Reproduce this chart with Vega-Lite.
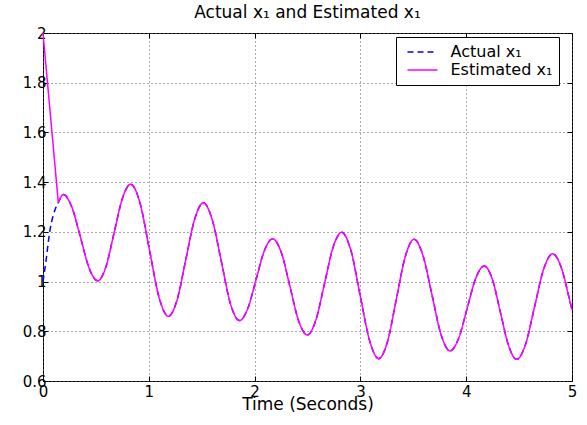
{
  "$schema": "https://vega.github.io/schema/vega-lite/v6.json",
  "width": 529,
  "height": 348,
  "autosize": {"type": "none"},
  "padding": {"left": 43, "top": 33, "right": 15, "bottom": 44},
  "background": "white",
  "config": {
    "view": {"stroke": "black", "strokeWidth": 1},
    "font": "DejaVu Sans",
    "axis": {
      "labelFont": "DejaVu Sans",
      "labelFontSize": 15,
      "labelColor": "black",
      "tickColor": "black",
      "tickSize": -5,
      "domain": false,
      "gridColor": "#555555",
      "gridDash": [1, 3],
      "gridOpacity": 1,
      "labelOverlap": false,
      "labelFlush": false,
      "titleFont": "DejaVu Sans",
      "titleFontSize": 17,
      "titleFontWeight": "normal",
      "titleColor": "black"
    }
  },
  "title": {
    "text": "Actual x₁ and Estimated x₁",
    "font": "DejaVu Sans",
    "fontSize": 17,
    "fontWeight": "normal",
    "color": "black",
    "anchor": "middle",
    "baseline": "alphabetic",
    "offset": -9
  },
  "datasets": {
    "curve": [
      {"s": "A", "p": "m", "t": 0, "v": 1.0},
      {"s": "A", "p": "m", "t": 0.025, "v": 1.073},
      {"s": "A", "p": "m", "t": 0.066, "v": 1.207},
      {"s": "A", "p": "m", "t": 0.113, "v": 1.288},
      {"s": "E", "p": "e0", "t": 0, "v": 2.0},
      {"s": "E", "p": "e0", "t": 0.145, "v": 1.317},
      {"s": "B", "p": "m", "t": 0.145, "v": 1.318},
      {"s": "B", "p": "m", "t": 0.192, "v": 1.35},
      {"s": "B", "p": "m", "t": 0.273, "v": 1.299},
      {"s": "B", "p": "m", "t": 0.355, "v": 1.177},
      {"s": "B", "p": "m", "t": 0.436, "v": 1.054},
      {"s": "B", "p": "m", "t": 0.517, "v": 1.003},
      {"s": "B", "p": "m", "t": 0.595, "v": 1.06},
      {"s": "B", "p": "m", "t": 0.673, "v": 1.198},
      {"s": "B", "p": "m", "t": 0.751, "v": 1.335},
      {"s": "B", "p": "m", "t": 0.829, "v": 1.392},
      {"s": "B", "p": "m", "t": 0.918, "v": 1.314},
      {"s": "B", "p": "m", "t": 1.007, "v": 1.126},
      {"s": "B", "p": "m", "t": 1.096, "v": 0.938},
      {"s": "B", "p": "m", "t": 1.185, "v": 0.86},
      {"s": "B", "p": "m", "t": 1.268, "v": 0.927},
      {"s": "B", "p": "m", "t": 1.35, "v": 1.089},
      {"s": "B", "p": "m", "t": 1.433, "v": 1.25},
      {"s": "B", "p": "m", "t": 1.515, "v": 1.317},
      {"s": "B", "p": "m", "t": 1.6, "v": 1.248},
      {"s": "B", "p": "m", "t": 1.686, "v": 1.08},
      {"s": "B", "p": "m", "t": 1.771, "v": 0.912},
      {"s": "B", "p": "m", "t": 1.856, "v": 0.843},
      {"s": "B", "p": "m", "t": 1.935, "v": 0.891},
      {"s": "B", "p": "m", "t": 2.014, "v": 1.008},
      {"s": "B", "p": "m", "t": 2.092, "v": 1.124},
      {"s": "B", "p": "m", "t": 2.171, "v": 1.172},
      {"s": "B", "p": "m", "t": 2.253, "v": 1.116},
      {"s": "B", "p": "m", "t": 2.335, "v": 0.979},
      {"s": "B", "p": "m", "t": 2.416, "v": 0.842},
      {"s": "B", "p": "m", "t": 2.498, "v": 0.785},
      {"s": "B", "p": "m", "t": 2.579, "v": 0.845},
      {"s": "B", "p": "m", "t": 2.661, "v": 0.992},
      {"s": "B", "p": "m", "t": 2.742, "v": 1.138},
      {"s": "B", "p": "m", "t": 2.823, "v": 1.198},
      {"s": "B", "p": "m", "t": 2.911, "v": 1.124},
      {"s": "B", "p": "m", "t": 2.998, "v": 0.944},
      {"s": "B", "p": "m", "t": 3.086, "v": 0.764},
      {"s": "B", "p": "m", "t": 3.173, "v": 0.69},
      {"s": "B", "p": "m", "t": 3.257, "v": 0.76},
      {"s": "B", "p": "m", "t": 3.34, "v": 0.93},
      {"s": "B", "p": "m", "t": 3.424, "v": 1.1},
      {"s": "B", "p": "m", "t": 3.507, "v": 1.17},
      {"s": "B", "p": "m", "t": 3.592, "v": 1.104},
      {"s": "B", "p": "m", "t": 3.677, "v": 0.946},
      {"s": "B", "p": "m", "t": 3.762, "v": 0.787},
      {"s": "B", "p": "m", "t": 3.847, "v": 0.721},
      {"s": "B", "p": "m", "t": 3.928, "v": 0.771},
      {"s": "B", "p": "m", "t": 4.009, "v": 0.892},
      {"s": "B", "p": "m", "t": 4.09, "v": 1.013},
      {"s": "B", "p": "m", "t": 4.171, "v": 1.063},
      {"s": "B", "p": "m", "t": 4.248, "v": 1.008},
      {"s": "B", "p": "m", "t": 4.324, "v": 0.875},
      {"s": "B", "p": "m", "t": 4.401, "v": 0.742},
      {"s": "B", "p": "m", "t": 4.477, "v": 0.687},
      {"s": "B", "p": "m", "t": 4.562, "v": 0.749},
      {"s": "B", "p": "m", "t": 4.647, "v": 0.9},
      {"s": "B", "p": "m", "t": 4.732, "v": 1.05},
      {"s": "B", "p": "m", "t": 4.817, "v": 1.112},
      {"s": "B", "p": "m", "t": 4.9, "v": 1.055},
      {"s": "B", "p": "m", "t": 4.983, "v": 0.916},
      {"s": "B", "p": "m", "t": 5.0, "v": 0.887}
    ]
  },
  "layer": [
    {
      "data": {"name": "curve"},
      "encoding": {
        "x": {
          "field": "t",
          "type": "quantitative",
          "scale": {"domain": [0, 5], "nice": false, "zero": false},
          "axis": {
            "values": [0, 1, 2, 3, 4, 5],
            "format": "d",
            "title": "Time (Seconds)",
            "titleY": 28,
            "titleBaseline": "alphabetic",
            "labelPadding": 8,
            "grid": true
          }
        },
        "y": {
          "field": "v",
          "type": "quantitative",
          "scale": {"domain": [0.6, 2], "nice": false, "zero": false},
          "axis": {
            "values": [0.6, 0.8, 1, 1.2, 1.4, 1.6, 1.8, 2],
            "format": "~g",
            "title": null,
            "labelPadding": 2,
            "grid": true
          }
        }
      },
      "layer": [
        {
          "transform": [{"filter": "datum.s !== 'E'"}],
          "mark": {"type": "line", "interpolate": "monotone", "strokeWidth": 1.5},
          "encoding": {
            "color": {
              "datum": "Actual x₁",
              "type": "nominal",
              "scale": {"domain": ["Actual x₁", "Estimated x₁"], "range": ["#0000ff", "#ff00ff"]},
              "legend": {
                "orient": "none",
                "legendX": 353,
                "legendY": 4,
                "title": null,
                "symbolType": "M-2,0H2",
                "symbolSize": 225,
                "symbolStrokeWidth": 1.5,
                "symbolOffset": 11.5,
                "labelFont": "DejaVu Sans",
                "labelFontSize": 16,
                "labelColor": "black",
                "labelOffset": 19.5,
                "rowPadding": 1,
                "padding": 6.5,
                "strokeColor": "black",
                "fillColor": "white"
              }
            },
            "strokeDash": {
              "datum": "Actual x₁",
              "type": "nominal",
              "scale": {"domain": ["Actual x₁", "Estimated x₁"], "range": [[6, 4], [1, 0]]},
              "legend": {
                "orient": "none",
                "legendX": 353,
                "legendY": 4,
                "title": null,
                "symbolType": "M-2,0H2",
                "symbolSize": 225,
                "symbolStrokeWidth": 1.5,
                "symbolOffset": 11.5,
                "labelFont": "DejaVu Sans",
                "labelFontSize": 16,
                "labelColor": "black",
                "labelOffset": 19.5,
                "rowPadding": 1,
                "padding": 6.5,
                "strokeColor": "black",
                "fillColor": "white"
              }
            }
          }
        },
        {
          "transform": [{"filter": "datum.s !== 'A'"}],
          "mark": {"type": "line", "interpolate": "monotone", "strokeWidth": 1.5},
          "encoding": {
            "color": {"datum": "Estimated x₁", "type": "nominal"},
            "strokeDash": {"datum": "Estimated x₁", "type": "nominal"},
            "detail": {"field": "p", "type": "nominal"}
          }
        }
      ]
    },
    {
      "data": {"name": "curve"},
      "mark": {"type": "line", "strokeOpacity": 0},
      "encoding": {
        "x": {
          "field": "t",
          "type": "quantitative",
          "scale": {"domain": [0, 5], "nice": false, "zero": false},
          "axis": {"orient": "top", "values": [0, 1, 2, 3, 4, 5], "labels": false, "grid": false, "title": null}
        },
        "y": {
          "field": "v",
          "type": "quantitative",
          "scale": {"domain": [0.6, 2], "nice": false, "zero": false},
          "axis": {"orient": "right", "values": [0.6, 0.8, 1, 1.2, 1.4, 1.6, 1.8, 2], "labels": false, "grid": false, "title": null}
        },
        "detail": {"field": "p", "type": "nominal"}
      }
    }
  ],
  "resolve": {"scale": {"x": "independent", "y": "independent"}}
}
